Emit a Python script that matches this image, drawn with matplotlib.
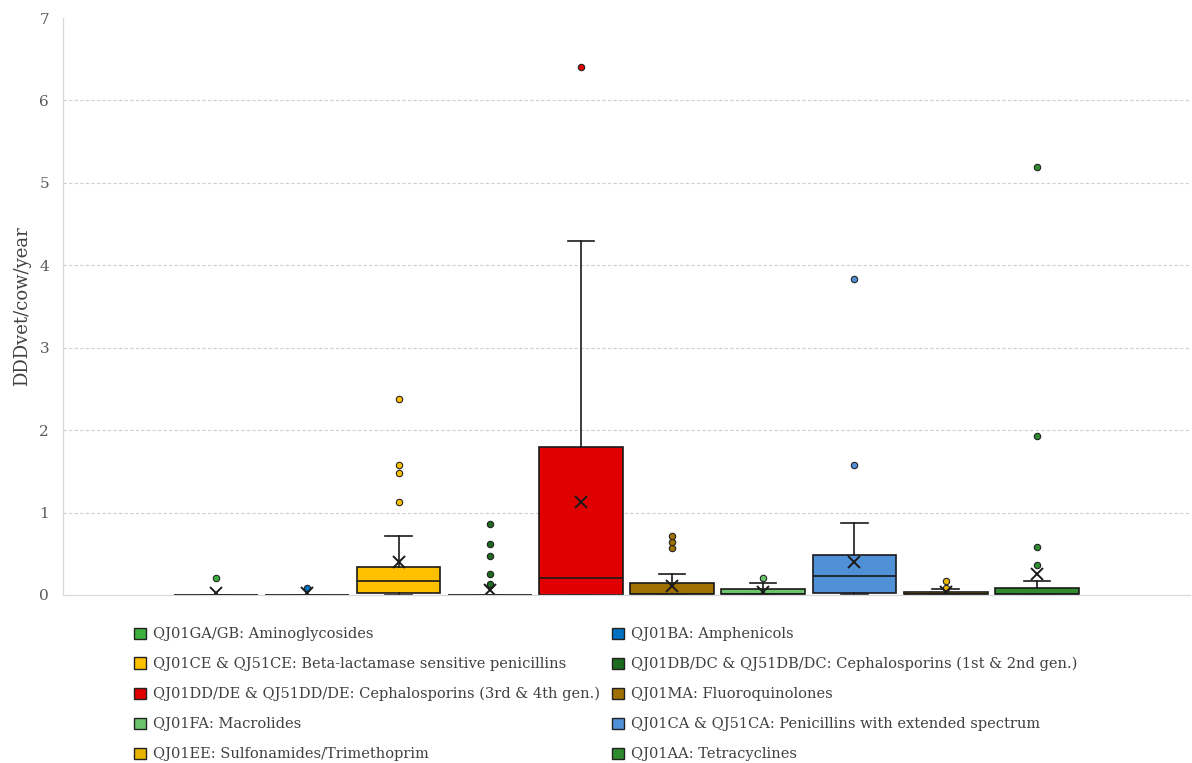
import matplotlib.pyplot as plt
from matplotlib.patches import Patch

plt.rcParams['font.family'] = ['DejaVu Serif']

# antimicrobial classes (legend order, left to right on the axis)
labels = ['QJ01GA/GB: Aminoglycosides',
          'QJ01BA: Amphenicols',
          'QJ01CE & QJ51CE: Beta-lactamase sensitive penicillins',
          'QJ01DB/DC & QJ51DB/DC: Cephalosporins (1st & 2nd gen.)',
          'QJ01DD/DE & QJ51DD/DE: Cephalosporins (3rd & 4th gen.)',
          'QJ01MA: Fluoroquinolones',
          'QJ01FA: Macrolides',
          'QJ01CA & QJ51CA: Penicillins with extended spectrum',
          'QJ01EE: Sulfonamides/Trimethoprim',
          'QJ01AA: Tetracyclines']
colors = ['#3DAF3D', '#0070C0', '#FFC000', '#1E6B1E', '#E00000',
          '#A07000', '#6CC46C', '#5090D6', '#E8B400', '#2E8B2E']

# box statistics, DDDvet/cow/year
q1 = [0, 0, 0.02, 0, 0, 0.01, 0.01, 0.03, 0.01, 0.01]
median = [0, 0, 0.17, 0, 0.21, 0.01, 0.01, 0.23, 0.01, 0.01]
q3 = [0, 0, 0.34, 0, 1.79, 0.14, 0.07, 0.49, 0.04, 0.08]
whislo = [0, 0, 0, 0, 0, 0, 0, 0.01, 0, 0]
whishi = [0, 0, 0.71, 0, 4.30, 0.26, 0.14, 0.87, 0.07, 0.17]
means = [0.02, 0.02, 0.40, 0.06, 1.13, 0.11, 0.04, 0.40, 0.04, 0.26]
outliers = [[0.21],
            [0.08],
            [1.13, 1.48, 1.58, 2.38],
            [0.12, 0.13, 0.26, 0.47, 0.62, 0.86],
            [6.40],
            [0.57, 0.64, 0.72],
            [0.21],
            [1.58, 3.83],
            [0.08, 0.17],
            [0.36, 0.58, 1.93, 5.19]]

stats = []
for i in range(len(labels)):
    stats.append(dict(q1=q1[i], med=median[i], q3=q3[i], whislo=whislo[i],
                      whishi=whishi[i], mean=means[i], fliers=outliers[i]))

fig = plt.figure(figsize=(11.92, 7.63), dpi=100)
ax = fig.add_axes([63 / 1192, 168 / 763, 1127 / 1192, 577 / 763])

pos = list(range(1, len(labels) + 1))
bp = ax.bxp(stats, positions=pos, widths=0.92, capwidths=0.29,
            patch_artist=True, showmeans=True,
            boxprops=dict(edgecolor='#1a1a1a', linewidth=1.2),
            medianprops=dict(color='#1a1a1a', linewidth=1.2),
            whiskerprops=dict(color='#1a1a1a', linewidth=1.2),
            capprops=dict(color='#1a1a1a', linewidth=1.2),
            meanprops=dict(marker='x', markeredgecolor='#1a1a1a',
                           markersize=9, markeredgewidth=1.4),
            flierprops=dict(marker='o', markersize=4.6, markeredgecolor='#222222',
                            markeredgewidth=0.8))
for box, fl, c in zip(bp['boxes'], bp['fliers'], colors):
    box.set_facecolor(c)
    fl.set_markerfacecolor(c)

ax.set_xlim(-0.68, 11.68)
ax.set_ylim(0, 7)
ax.set_xticks([])
ax.set_yticks(range(0, 8))
ax.tick_params(axis='y', length=0, pad=10, labelsize=11, labelcolor='#595959')
# dashed gridlines for 1..6 only, nothing along the top edge
ax.hlines(range(1, 7), -0.68, 11.68, colors='#CFCFCF', linewidth=0.8,
          linestyles=(0, (3, 2)), zorder=0)
for side in ['top', 'right']:
    ax.spines[side].set_visible(False)
for side in ['left', 'bottom']:
    ax.spines[side].set_color('#D9D9D9')
    ax.spines[side].set_linewidth(0.9)

ax.set_ylabel('DDDvet/cow/year', fontsize=13, color='#404040', labelpad=6)

# two-column legend below the axes
handles = [Patch(facecolor=c, edgecolor='#222222', linewidth=1.0) for c in colors]
for col, x0 in [(0, 124 / 1192), (1, 602 / 1192)]:
    idx = list(range(col, len(labels), 2))
    fig.legend([handles[i] for i in idx], [labels[i] for i in idx],
               loc='upper left', bbox_to_anchor=(x0, 1 - 617 / 763),
               frameon=False, fontsize=10.5, handlelength=0.8,
               handleheight=0.8, handletextpad=0.5, labelspacing=1.09,
               borderpad=0.2, labelcolor='#404040')

fig.savefig('out.png', dpi=100)
